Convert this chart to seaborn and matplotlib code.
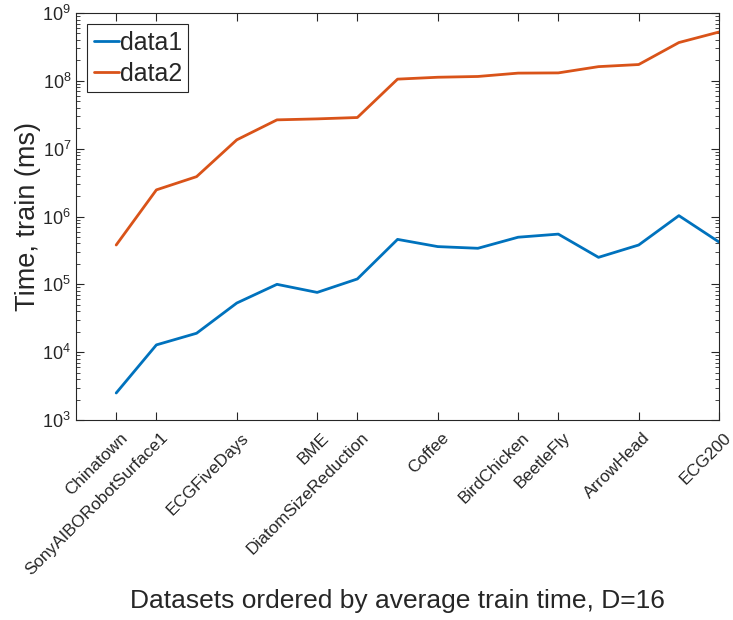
import numpy as np
import pandas as pd
import seaborn as sns
import matplotlib
matplotlib.use("Agg")
import matplotlib.pyplot as plt
from matplotlib.transforms import ScaledTranslation

# 数据：按平均训练时间排序的数据集
positions = list(range(1, 17))
data1 = [2.5e3, 1.28e4, 1.9e4, 5.3e4, 1.0e5, 7.6e4, 1.2e5, 4.6e5,
         3.6e5, 3.4e5, 4.95e5, 5.5e5, 2.5e5, 3.8e5, 1.03e6, 4.2e5]
data2 = [3.8e5, 2.47e6, 3.87e6, 1.35e7, 2.66e7, 2.75e7, 2.88e7, 1.06e8,
         1.13e8, 1.16e8, 1.30e8, 1.31e8, 1.62e8, 1.74e8, 3.67e8, 5.25e8]
tick_pos = [1, 2, 4, 6, 7, 9, 11, 12, 14, 16]
tick_labels = ['Chinatown', 'SonyAIBORobotSurface1', 'ECGFiveDays', 'BME',
               'DiatomSizeReduction', 'Coffee', 'BirdChicken', 'BeetleFly',
               'ArrowHead', 'ECG200']

df = pd.DataFrame({
    'pos': positions * 2,
    'time': data1 + data2,
    'series': ['data1'] * 16 + ['data2'] * 16,
})

sns.set_style('ticks')
plt.rcParams['font.family'] = ['Liberation Sans', 'DejaVu Sans']
plt.rcParams['mathtext.fontset'] = 'custom'
plt.rcParams['mathtext.rm'] = 'Liberation Sans'

gray = '#262626'
fig = plt.figure(figsize=(7.33, 6.2), dpi=100)
ax = fig.add_axes([0.1037, 0.3226, 0.8773, 0.6564])

sns.lineplot(data=df, x='pos', y='time', hue='series',
             palette=['#0072BD', '#D95319'], linewidth=2, ax=ax)

ax.set_yscale('log')
ax.set_xlim(0, 16)
ax.set_ylim(1e3, 1e9)
ax.set_xticks(tick_pos)
ax.set_xticklabels([])
# 旋转的刻度标签，末端放在刻度右下方（MATLAB风格）
trans = ax.get_xaxis_transform() + ScaledTranslation(0.04, -0.10, fig.dpi_scale_trans)
for p, name in zip(tick_pos, tick_labels):
    ax.text(p, 0, name, transform=trans, rotation=45, ha='right', va='top',
            rotation_mode='anchor', fontsize=12.3, color=gray)

ax.tick_params(axis='y', labelsize=13, labelcolor=gray)
ax.tick_params(which='both', direction='in', top=True, right=True, color=gray)
ax.tick_params(which='major', length=6)
ax.tick_params(which='minor', length=3)
ax.tick_params(axis='x', which='minor', bottom=False, top=False)
for s in ax.spines.values():
    s.set_color(gray)
    s.set_linewidth(0.8)

ax.set_xlabel('Datasets ordered by average train time, D=16', fontsize=19,
              color=gray)
ax.xaxis.set_label_coords(0.5, -0.415)
ax.set_ylabel('Time, train (ms)', fontsize=19.5, color=gray)
ax.yaxis.set_label_coords(-0.054, 0.5)

leg = ax.legend(loc='upper left', fontsize=18, fancybox=False,
                edgecolor=gray, framealpha=1, handlelength=1.0,
                handletextpad=0.05, borderpad=0.25, labelspacing=0.3,
                borderaxespad=0.45)
leg.get_frame().set_linewidth(0.8)

fig.savefig('out.png', dpi=100)
